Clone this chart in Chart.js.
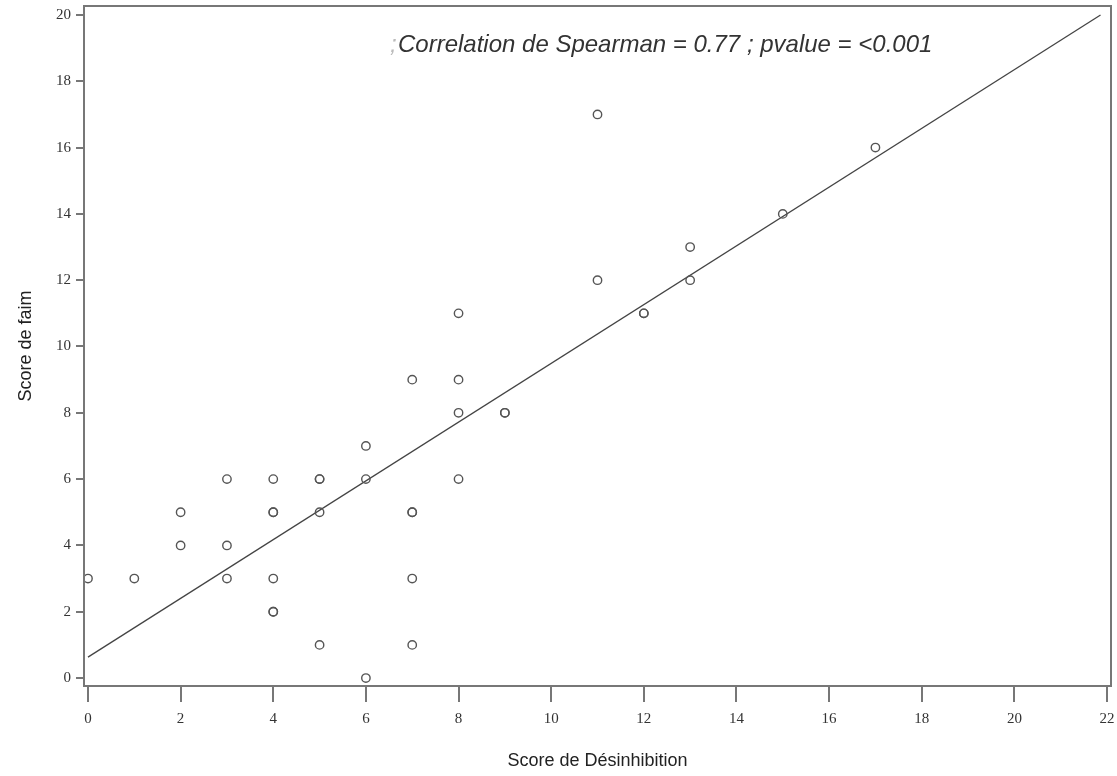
<!DOCTYPE html>
<html lang="fr">
<head>
    <meta charset="UTF-8">
    <title>Score de faim vs Score de Désinhibition</title>
    <script src="https://cdn.jsdelivr.net/npm/chart.js"></script>
    <style>
        html, body { margin: 0; padding: 0; background: #fff; }
        .chart-container { width: 1117px; height: 776px; }
    </style>
</head>
<body>
    <div class="chart-container">
        <canvas id="scatterChart"></canvas>
    </div>
    <script>
        // Observations (duplicates kept where circles look overprinted)
        const desinhibition = [0, 1, 2, 2, 3, 3, 3, 4, 4, 4, 4, 4, 4, 5, 5, 5, 5, 6, 6, 6, 7, 7, 7, 7, 7, 8, 8, 8, 8, 9, 9, 11, 11, 12, 12, 13, 13, 15, 17];
        const faim =          [3, 3, 5, 4, 6, 4, 3, 5, 5, 3, 2, 2, 6, 6, 6, 5, 1, 7, 6, 0, 9, 5, 5, 3, 1, 11, 9, 8, 6, 8, 8, 17, 12, 11, 11, 13, 12, 14, 16];

        // Fitted regression line end points
        const fitX = [0, 21.86];
        const fitY = [0.63, 20];

        const xTicks = [0, 2, 4, 6, 8, 10, 12, 14, 16, 18, 20, 22];
        const yTicks = [0, 2, 4, 6, 8, 10, 12, 14, 16, 18, 20];

        const annotation = 'Correlation de Spearman = 0.77 ; pvalue = <0.001';

        const points = desinhibition.map((x, i) => ({ x: x, y: faim[i] }));
        const fitLine = fitX.map((x, i) => ({ x: x, y: fitY[i] }));

        // frame around the plot area + the correlation text
        const framePlugin = {
            id: 'frame',
            afterDraw(chart) {
                const { ctx, chartArea } = chart;
                ctx.save();
                ctx.strokeStyle = '#777';
                ctx.lineWidth = 2;
                ctx.strokeRect(chartArea.left, chartArea.top, chartArea.right - chartArea.left, chartArea.bottom - chartArea.top);
                ctx.font = 'italic 24px "Liberation Sans", Arial, sans-serif';
                ctx.textBaseline = 'middle';
                ctx.fillStyle = '#bbb';
                ctx.fillText(';', 390, 45);
                ctx.fillStyle = '#333';
                ctx.fillText(annotation, 398, 45);
                ctx.restore();
            }
        };

        const tickFont = { family: '"Liberation Serif", "Times New Roman", serif', size: 15 };
        const titleFont = { family: '"Liberation Sans", Arial, sans-serif', size: 18 };

        const ctx = document.getElementById('scatterChart').getContext('2d');
        new Chart(ctx, {
            type: 'scatter',
            data: {
                datasets: [
                    {
                        data: points,
                        pointStyle: 'circle',
                        pointRadius: 4.2,
                        borderWidth: 1.4,
                        borderColor: '#555',
                        backgroundColor: 'rgba(0,0,0,0)'
                    },
                    {
                        type: 'line',
                        data: fitLine,
                        showLine: true,
                        pointRadius: 0,
                        borderColor: '#444',
                        borderWidth: 1.3,
                        fill: false
                    }
                ]
            },
            options: {
                responsive: true,
                maintainAspectRatio: false,
                animation: false,
                layout: { padding: { left: 11, right: 6, top: 6, bottom: 0 } },
                plugins: {
                    legend: { display: false },
                    tooltip: { enabled: false }
                },
                scales: {
                    x: {
                        type: 'linear',
                        min: -0.086,
                        max: 22.086,
                        afterBuildTicks: scale => { scale.ticks = xTicks.map(v => ({ value: v })); },
                        afterFit: scale => {
                            scale.height = 90;
                            scale.paddingLeft = 0;
                            scale.paddingRight = 0;
                        },
                        border: { display: false },
                        grid: { drawOnChartArea: false, drawTicks: true, tickLength: 16, color: '#777', lineWidth: 2 },
                        ticks: { font: tickFont, color: '#333', padding: 8, maxRotation: 0 },
                        title: { display: true, text: 'Score de Désinhibition', font: titleFont, color: '#222' }
                    },
                    y: {
                        type: 'linear',
                        min: -0.24,
                        max: 20.27,
                        afterBuildTicks: scale => { scale.ticks = yTicks.map(v => ({ value: v })); },
                        afterFit: scale => {
                            scale.width = 73;
                            scale.paddingTop = 0;
                            scale.paddingBottom = 0;
                        },
                        border: { display: false },
                        grid: { drawOnChartArea: false, drawTicks: true, tickLength: 8, color: '#777', lineWidth: 2 },
                        ticks: { font: tickFont, color: '#333', padding: 5 },
                        title: { display: true, text: 'Score de faim', font: titleFont, color: '#222' }
                    }
                }
            },
            plugins: [framePlugin]
        });
    </script>
</body>
</html>
